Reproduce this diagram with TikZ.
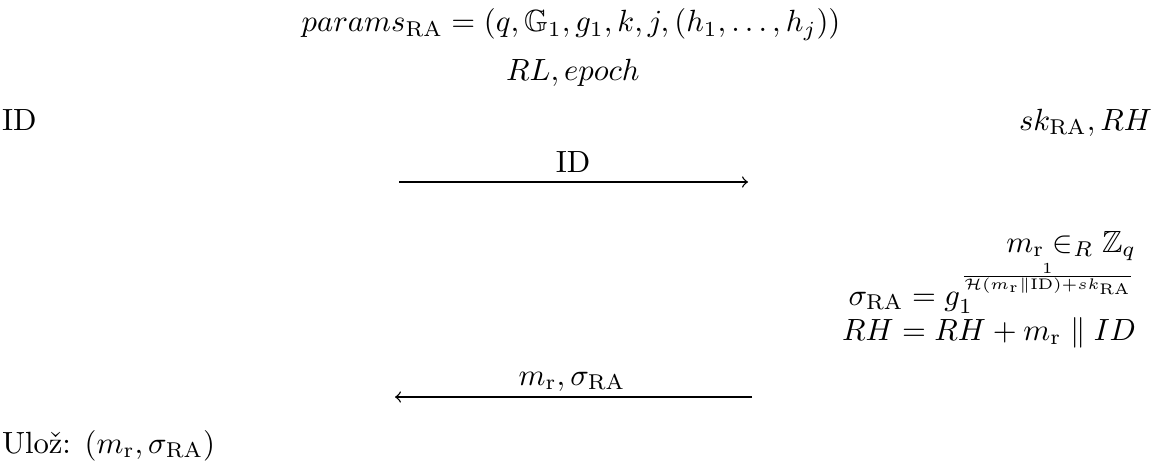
\documentclass[tikz,border=0pt]{standalone}
\usepackage{amsmath,amssymb}
\begin{document}
\begin{tikzpicture}[x=0.326pt,y=-0.326pt,
  txt/.style={inner sep=0pt, outer sep=0pt},
  msg/.style={line width=0.45pt}]
\useasboundingbox (0,0) rectangle (1154,466);
% top parameters
\node[txt, anchor=base] (params) at (571,32) {$params_{\mathrm{RA}} = (q, \mathbb{G}_1, g_1, k, j, (h_1, \ldots, h_j))$};
\node[txt, anchor=base] (rl) at (573,80) {$RL, epoch$};
% parties
\node[txt, anchor=base west] (user) at (2,130) {ID};
\node[txt, anchor=base east] (ra) at (1152,130) {$sk_{\mathrm{RA}}, RH$};
% first message
\coordinate (m1s) at (399,182);
\coordinate (m1e) at (748,182);
\draw[msg,-to] (m1s) -- (m1e);
\node[txt, anchor=base] (m1l) at (573,172) {ID};
% RA computations
\node[txt, anchor=base east] (c1) at (1136,252) {$m_{\mathrm{r}} \in_R \mathbb{Z}_q$};
\node[txt, anchor=base east] (c2) at (1136,305) {$\sigma_{\mathrm{RA}} = g_1^{\frac{1}{\mathcal{H}(m_{\mathrm{r}}\|\mathrm{ID})+sk_{\mathrm{RA}}}}$};
\node[txt, anchor=base east] (c3) at (1136,340) {$RH = RH + m_{\mathrm{r}} \parallel ID$};
% second message
\coordinate (m2s) at (752,397);
\coordinate (m2e) at (395,397);
\draw[msg,-to] (m2s) -- (m2e);
\node[txt, anchor=base] (m2l) at (572,385) {$m_{\mathrm{r}}, \sigma_{\mathrm{RA}}$};
% store
\node[txt, anchor=base west] (store) at (2,453) {Ulož: $(m_{\mathrm{r}}, \sigma_{\mathrm{RA}})$};
\end{tikzpicture}
\end{document}
